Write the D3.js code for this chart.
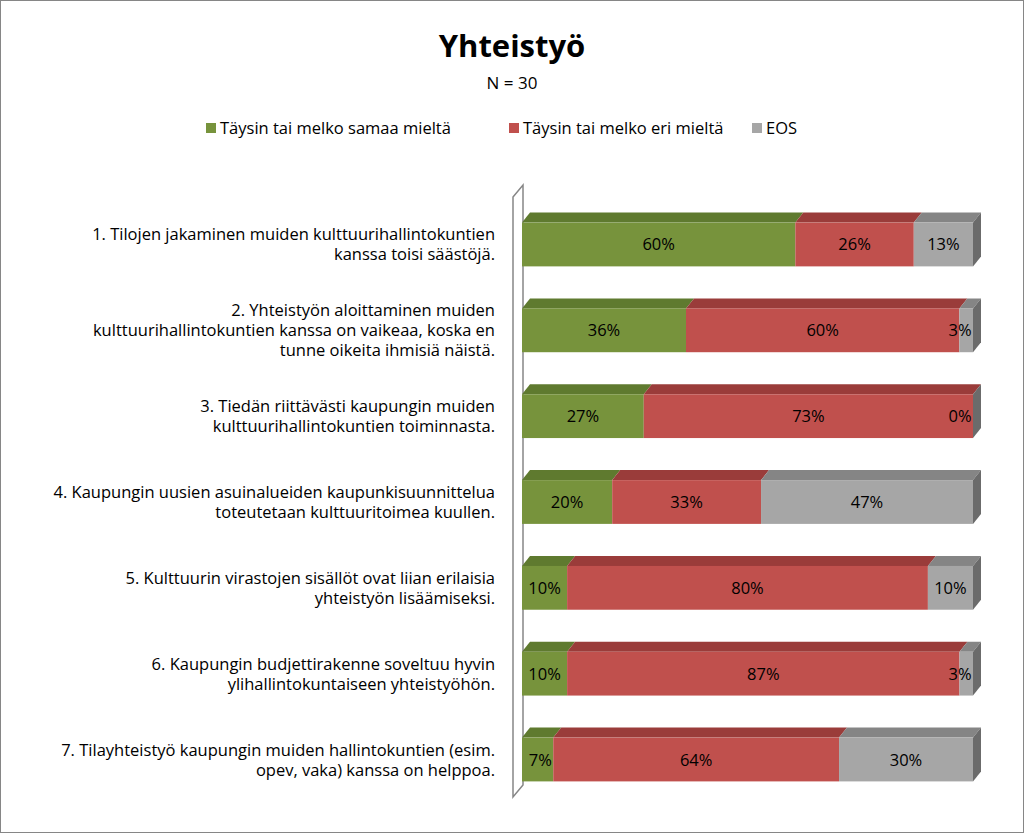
<!DOCTYPE html>
<html><head><meta charset="utf-8">
<script src="https://cdn.jsdelivr.net/npm/d3@7"></script>
<style>body{margin:0;background:#fff}text{font-family:"Open Sans",Lato,sans-serif;fill:#000}</style>
</head><body>
<script>
const width = 1024, height = 833;
const categories = [
  ["1. Tilojen jakaminen muiden kulttuurihallintokuntien", "kanssa toisi säästöjä."],
  ["2. Yhteistyön aloittaminen muiden", "kulttuurihallintokuntien kanssa on vaikeaa, koska en", "tunne oikeita ihmisiä näistä."],
  ["3. Tiedän riittävästi kaupungin muiden", "kulttuurihallintokuntien toiminnasta."],
  ["4. Kaupungin uusien asuinalueiden kaupunkisuunnittelua", "toteutetaan kulttuuritoimea kuullen."],
  ["5. Kulttuurin virastojen sisällöt ovat liian erilaisia", "yhteistyön lisäämiseksi."],
  ["6. Kaupungin budjettirakenne soveltuu hyvin", "ylihallintokuntaiseen yhteistyöhön."],
  ["7. Tilayhteistyö kaupungin muiden hallintokuntien (esim.", "opev, vaka) kanssa on helppoa."]
];
const seriesNames = ["Täysin tai melko samaa mieltä", "Täysin tai melko eri mieltä", "EOS"];
const agree = [60, 36, 27, 20, 10, 10, 7];
const disagree = [26, 60, 73, 33, 80, 87, 64];
const eos = [13, 3, 0, 47, 10, 3, 30];
const colors = ["#77933c", "#c0504d", "#a6a6a6"];
const topColors = ["#5f7a2f", "#9a3c3a", "#858585"];
const sideColor = "#6b6b6b";

const svg = d3.select("body").append("svg").attr("width", width).attr("height", height);
svg.append("rect").attr("x", 0.5).attr("y", 0.5).attr("width", width - 1).attr("height", height - 1)
  .attr("fill", "#fff").attr("stroke", "#868686");

svg.append("text").attr("x", 512).attr("y", 57).attr("text-anchor", "middle")
  .style("font-size", "31px").style("font-weight", "bold").text("Yhteistyö");
svg.append("text").attr("x", 512).attr("y", 89).attr("text-anchor", "middle")
  .style("font-size", "17px").text("N = 30");

// legend
const legX = [206, 509, 752];
seriesNames.forEach((s, i) => {
  svg.append("rect").attr("x", legX[i]).attr("y", 123).attr("width", 10).attr("height", 10).attr("fill", colors[i]);
  svg.append("text").attr("x", legX[i] + 14).attr("y", 134).style("font-size", "16.5px").text(s);
});

const x = d3.scaleLinear().domain([0, 1]).range([522, 973]);
const y = d3.scaleBand().domain(d3.range(categories.length)).range([202, 802]).paddingInner(0.49).paddingOuter(0.24);
const dx = 8, dy = 10;

// back wall
svg.append("path").attr("d", `M513,197L523,185L523,785L513,797Z`)
  .attr("fill", "none").attr("stroke", "#868686").attr("stroke-width", 1.5);

categories.forEach((c, i) => {
  const vals = [agree[i], disagree[i], eos[i]];
  const total = d3.sum(vals);
  let acc = 0;
  const y0 = y(i), h = y.bandwidth();
  const g = svg.append("g");
  vals.forEach((v, k) => {
    const x0 = x(acc / total), x1 = x((acc + v) / total);
    acc += v;
    if (x1 > x0) {
      g.append("path").attr("d", `M${x0},${y0}L${x0 + dx},${y0 - dy}L${x1 + dx},${y0 - dy}L${x1},${y0}Z`).attr("fill", topColors[k]);
      g.append("rect").attr("x", x0).attr("y", y0).attr("width", x1 - x0).attr("height", h).attr("fill", colors[k]);
    }
    const tx = x1 > x0 + 32 ? (x0 + x1) / 2 : x1 - 13;
    g.append("text").attr("x", tx).attr("y", y0 + h / 2 + 6).attr("text-anchor", "middle")
      .style("font-size", "16.5px").text(v + "%");
  });
  const xe = x(1);
  g.append("path").attr("d", `M${xe},${y0}L${xe + dx},${y0 - dy}L${xe + dx},${y0 + h - dy}L${xe},${y0 + h}Z`).attr("fill", sideColor);
  g.selectAll("text").raise();
  const lh = 20, cy = y0 + h / 2;
  c.forEach((line, j) => {
    svg.append("text").attr("x", 495).attr("y", cy + (j - (c.length - 1) / 2) * lh + 6)
      .attr("text-anchor", "end").style("font-size", "16.5px").text(line);
  });
});
</script>
</body></html>
